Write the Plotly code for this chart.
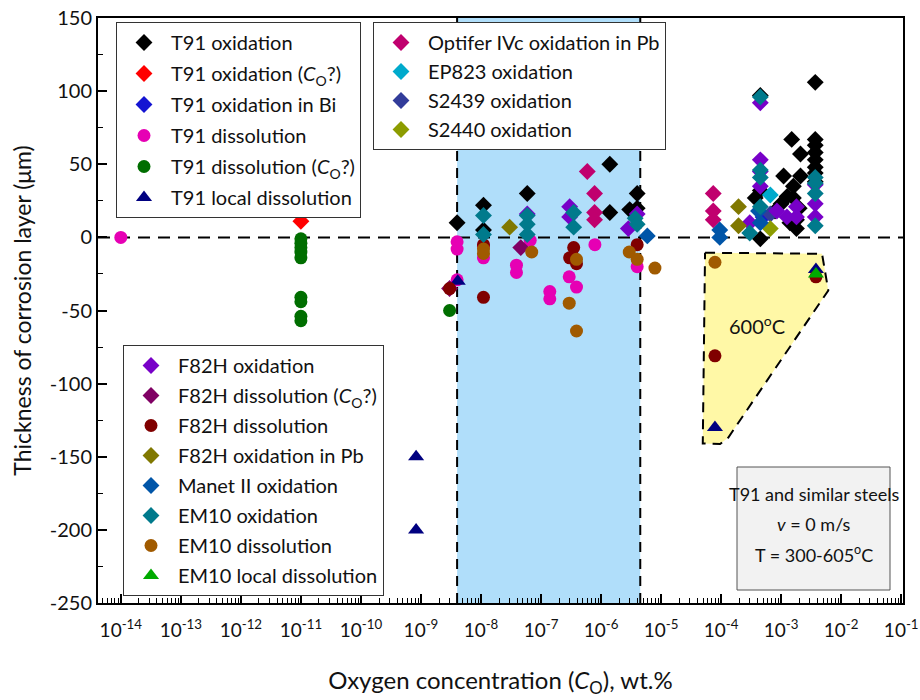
import plotly.graph_objects as go

# ---------------- data (oxygen concentration wt.%, thickness um) ----------------
t91_ox_x = [4.0e-9, 1.1e-8, 1.1e-8, 5.9e-8, 1.4e-6, 1.4e-6, 3.0e-6, 4.0e-6, 4.0e-6,
            4.5e-4, 4.5e-4, 4.5e-4, 3.7e-4, 1.1e-3, 1.5e-3, 2.1e-3, 2.1e-3, 1.6e-3,
            1.26e-3, 1.6e-3, 1.0e-3, 1.8e-3, 1.8e-3, 7.9e-4, 3.7e-3, 3.7e-3, 3.7e-3,
            3.7e-3, 3.7e-3, 3.7e-3, 3.7e-3, 3.7e-3, 2.0e-3, 1.4e-3]
t91_ox_y = [10, 22, 5, 30, 50, 17, 19, 30, 20,
            97, 32, -1, 27, 42, 67, 57, 42, 35,
            28, 27, 23, 12, 6, 18, 106, 67, 63,
            58, 53, 48, 44, 38, 20, 10]

t91_oxq_x = [1e-11]
t91_oxq_y = [11]

t91_bi_x = [5.0e-4]
t91_bi_y = [14]

t91_dis_x = [1e-14, 4.0e-9, 4.0e-9, 4.0e-9, 1.1e-8, 1.1e-8, 3.9e-8, 3.9e-8, 6.6e-8,
             1.4e-7, 1.4e-7, 7.9e-7, 2.95e-7, 3.9e-7, 4.0e-6]
t91_dis_y = [0, -3, -8, -29, -14, -6, -19, -24, -2,
             -37, -42, -5, -27, -34, -20]

t91_disq_x = [1e-11, 1e-11, 1e-11, 1e-11, 1e-11, 1e-11, 1e-11, 1e-11, 1e-11, 3.0e-9]
t91_disq_y = [-1, -4, -7, -10, -14, -41, -44, -54, -57, -50]

t91_loc_x = [8.3e-10, 8.3e-10, 4.1e-9, 7.9e-5, 3.8e-3]
t91_loc_y = [-150, -200, -30, -130, -22]

optifer_x = [5.9e-7, 7.8e-7, 7.8e-7, 7.8e-7, 7.4e-5, 7.4e-5, 7.4e-5]
optifer_y = [45, 30, 17, 12, 30, 18, 12]

ep823_x = [6.6e-4]
ep823_y = [29]

s2439_x = [6.6e-4]
s2439_y = [16]

s2440_x = [6.6e-4]
s2440_y = [6]

f82h_ox_x = [5.9e-8, 3.0e-7, 3.0e-7, 2.85e-6, 4.0e-6, 4.5e-4, 4.5e-4, 4.5e-4, 4.5e-4,
             1.25e-3, 1.8e-3, 1.8e-3, 3.7e-3, 3.7e-3, 3.7e-3, 3.0e-4, 8.5e-4]
f82h_ox_y = [16, 21, 14, 6, 16, 92, 53, 45, 35,
             14, 21, 14, 36, 23, 14, 10, 18]

f82h_disq_x = [4.6e-8, 3.0e-9]
f82h_disq_y = [-7, -35]

f82h_dis_x = [3.0e-9, 1.1e-8, 1.1e-8, 3.5e-7, 3.0e-7, 3.9e-7, 4.0e-6, 7.9e-5, 3.8e-3]
f82h_dis_y = [-35, -41, -5, -7, -14, -18, -5, -81, -27]

f82h_pb_x = [3.0e-8, 1.95e-4, 1.95e-4]
f82h_pb_y = [7, 21, 8]

manet_x = [5.9e-6, 9.5e-5, 9.5e-5, 4.5e-4, 4.2e-4]
manet_y = [1, 5, 0, 10, 18]

em10_ox_x = [1.1e-8, 1.1e-8, 5.9e-8, 5.9e-8, 5.9e-8, 3.5e-7, 3.5e-7, 3.7e-6, 4.0e-6,
             4.5e-4, 4.5e-4, 4.5e-4, 4.5e-4, 3.0e-4, 3.7e-3, 3.7e-3, 3.7e-3, 3.7e-3]
em10_ox_y = [15, 2, 15, 9, 2, 17, 7, 13, 9,
             96, 46, 41, 21, 3, 41, 37, 30, 8]

em10_dis_x = [1.1e-8, 1.1e-8, 7.0e-8, 3.9e-7, 2.95e-7, 3.9e-7, 2.95e-6, 4.0e-6, 7.9e-6, 7.9e-5]
em10_dis_y = [-8, -11, -10, -15, -45, -64, -10, -15, -21, -17]

em10_loc_x = [3.8e-3]
em10_loc_y = [-25]

# shaded oxygen window and 600 C region
window_x = [4.0e-9, 4.5e-6]
region600_x = [5.4e-5, 4.8e-3, 6.1e-3, 1.32e-4, 9.6e-5, 4.95e-5, 5.4e-5]
region600_y = [-10.5, -11.2, -36.3, -136.8, -141.3, -140.9, -10.5]

xtick_vals = [1e-14, 1e-13, 1e-12, 1e-11, 1e-10, 1e-9, 1e-8, 1e-7, 1e-6, 1e-5, 1e-4, 1e-3, 1e-2, 1e-1]
xtick_text = ["10<sup>-14</sup>", "10<sup>-13</sup>", "10<sup>-12</sup>", "10<sup>-11</sup>",
              "10<sup>-10</sup>", "10<sup>-9</sup>", "10<sup>-8</sup>", "10<sup>-7</sup>",
              "10<sup>-6</sup>", "10<sup>-5</sup>", "10<sup>-4</sup>", "10<sup>-3</sup>",
              "10<sup>-2</sup>", "10<sup>-1</sup>"]
ytick_vals = [150, 100, 50, 0, -50, -100, -150, -200, -250]
ytick_text = ["150", "100", "50", "0", "-50", "-100", "-150", "-200", "-250"]

# ---------------- figure ----------------
fig = go.Figure()

# blue window
fig.add_trace(go.Scatter(x=[window_x[0], window_x[1], window_x[1], window_x[0], window_x[0]],
                         y=[-250, -250, 150, 150, -250], mode="lines", fill="toself",
                         fillcolor="#B0DEFA", line=dict(width=0), showlegend=False, hoverinfo="skip"))
for xv in window_x:
    fig.add_trace(go.Scatter(x=[xv, xv], y=[-250, 150], mode="lines",
                             line=dict(color="black", width=2, dash="10px,7px"),
                             showlegend=False, hoverinfo="skip"))
# yellow region
fig.add_trace(go.Scatter(x=region600_x, y=region600_y, mode="lines", fill="toself",
                         fillcolor="#FFF8A6", line=dict(color="black", width=2, dash="10px,7px"),
                         showlegend=False, hoverinfo="skip"))
# zero line
fig.add_trace(go.Scatter(x=[10 ** -14.38, 10 ** -0.97], y=[0, 0], mode="lines",
                         line=dict(color="black", width=2, dash="12px,8px"),
                         showlegend=False, hoverinfo="skip"))

CO = "(<i>C</i><sub>O</sub>?)"
series = [
    ("T91 oxidation", t91_ox_x, t91_ox_y, "diamond", "#000000", "legend"),
    ("T91 oxidation " + CO, t91_oxq_x, t91_oxq_y, "diamond", "#FF0000", "legend"),
    ("T91 oxidation in Bi", t91_bi_x, t91_bi_y, "diamond", "#1414D2", "legend"),
    ("T91 dissolution", t91_dis_x, t91_dis_y, "circle", "#E600B4", "legend"),
    ("T91 dissolution " + CO, t91_disq_x, t91_disq_y, "circle", "#006E00", "legend"),
    ("T91 local dissolution", t91_loc_x, t91_loc_y, "triangle-up", "#000080", "legend"),
    ("Optifer IVc oxidation in Pb", optifer_x, optifer_y, "diamond", "#C0006E", "legend2"),
    ("EP823 oxidation", ep823_x, ep823_y, "diamond", "#00AACC", "legend2"),
    ("S2439 oxidation", s2439_x, s2439_y, "diamond", "#323C9A", "legend2"),
    ("S2440 oxidation", s2440_x, s2440_y, "diamond", "#8C9C00", "legend2"),
    ("F82H oxidation", f82h_ox_x, f82h_ox_y, "diamond", "#7800C8", "legend3"),
    ("F82H dissolution " + CO, f82h_disq_x, f82h_disq_y, "diamond", "#800064", "legend3"),
    ("F82H dissolution", f82h_dis_x, f82h_dis_y, "circle", "#800000", "legend3"),
    ("F82H oxidation in Pb", f82h_pb_x, f82h_pb_y, "diamond", "#807800", "legend3"),
    ("Manet II oxidation", manet_x, manet_y, "diamond", "#0055A8", "legend3"),
    ("EM10 oxidation", em10_ox_x, em10_ox_y, "diamond", "#007A8C", "legend3"),
    ("EM10 dissolution", em10_dis_x, em10_dis_y, "circle", "#A05A00", "legend3"),
    ("EM10 local dissolution", em10_loc_x, em10_loc_y, "triangle-up", "#00AA00", "legend3"),
]
sizes = {"diamond": 13, "circle": 13, "triangle-up": 14}
for i, (name, xs, ys, sym, col, lg) in enumerate(series):
    fig.add_trace(go.Scatter(x=xs, y=ys, mode="markers", name=name, legend=lg,
                             legendgroup="g%d" % i,
                             marker=dict(symbol=sym, size=sizes[sym], color=col, line=dict(width=0))))

# ---------------- layout ----------------
W, H = 920, 700
L, R, T, B = 98, 903, 18, 603   # plot area in window pixels

def px(x):
    return (x - L) / (R - L)

def py(y):
    return (B - y) / (B - T)

legend_common = dict(bgcolor="white", bordercolor="#333333", borderwidth=1,
                     font=dict(family="Lato", size=20, color="#111111"),
                     xanchor="left", yanchor="top", itemwidth=44, traceorder="grouped")

fig.update_layout(
    width=W, height=H,
    margin=dict(l=L, r=W - R, t=T, b=H - B, autoexpand=False),
    plot_bgcolor="white", paper_bgcolor="white",
    font=dict(family="Lato", size=20, color="#111111"),
    legend=dict(x=px(116), y=py(22), tracegroupgap=2, **legend_common),
    legend2=dict(x=px(373), y=py(22), tracegroupgap=0, **legend_common),
    legend3=dict(x=px(123), y=py(345), tracegroupgap=1, **legend_common),
    xaxis=dict(type="log", range=[-14.38, -0.97], tickmode="array",
               tickvals=xtick_vals, ticktext=xtick_text, automargin=False,
               ticklabeloverflow="allow",
               ticks="inside", ticklen=9, tickwidth=1.5, tickcolor="black",
               ticklabelstandoff=9,
               showline=True, linewidth=2, linecolor="black", mirror=True,
               showgrid=False, zeroline=False,
               minor=dict(ticks="inside", ticklen=5, tickwidth=1, tickcolor="black", dtick="D1", showgrid=False),
               tickfont=dict(family="Lato", size=19, color="#111111"),
               title=dict(text="Oxygen concentration (<i>C</i><sub>O</sub>), wt.%",
                          font=dict(family="Lato", size=24, color="#111111"), standoff=32)),
    yaxis=dict(range=[-250, 150], tickmode="array", tickvals=ytick_vals, ticktext=ytick_text,
               automargin=False, ticklabeloverflow="allow",
               ticks="inside", ticklen=9, tickwidth=1.5, tickcolor="black",
               showline=True, linewidth=2, linecolor="black", mirror=True,
               showgrid=False, zeroline=False,
               minor=dict(ticks="inside", ticklen=5, tickwidth=1, tickcolor="black", dtick=25, showgrid=False),
               tickfont=dict(family="Lato", size=20, color="#111111"),
               title=dict(text="Thickness of corrosion layer (μm)",
                          font=dict(family="Lato", size=23, color="#111111"), standoff=12)),
)

# info box
fig.add_shape(type="rect", xref="paper", yref="paper",
              x0=px(737), x1=px(890), y0=py(590), y1=py(467),
              fillcolor="#F2F2F2", line=dict(color="#555555", width=1))
for txt, yy in [("T91 and similar steels", 494), ("<i>v</i> = 0 m/s", 524),
                ("T = 300-605<sup>o</sup>C", 554)]:
    fig.add_annotation(xref="paper", yref="paper", x=px(813.5), y=py(yy), text=txt,
                       showarrow=False, font=dict(family="Lato", size=18, color="#111111"),
                       xanchor="center", yanchor="middle")

fig.add_annotation(x=-3.405, y=-60, xref="x", yref="y", text="600<sup>o</sup>C", showarrow=False,
                   font=dict(family="Lato", size=20, color="#111111"))

# remove the default page margin so the 920x700 figure fills the window exactly
fig.write_html("out.html", config={"displayModeBar": False},
               post_script="document.body.style.margin='0';")
